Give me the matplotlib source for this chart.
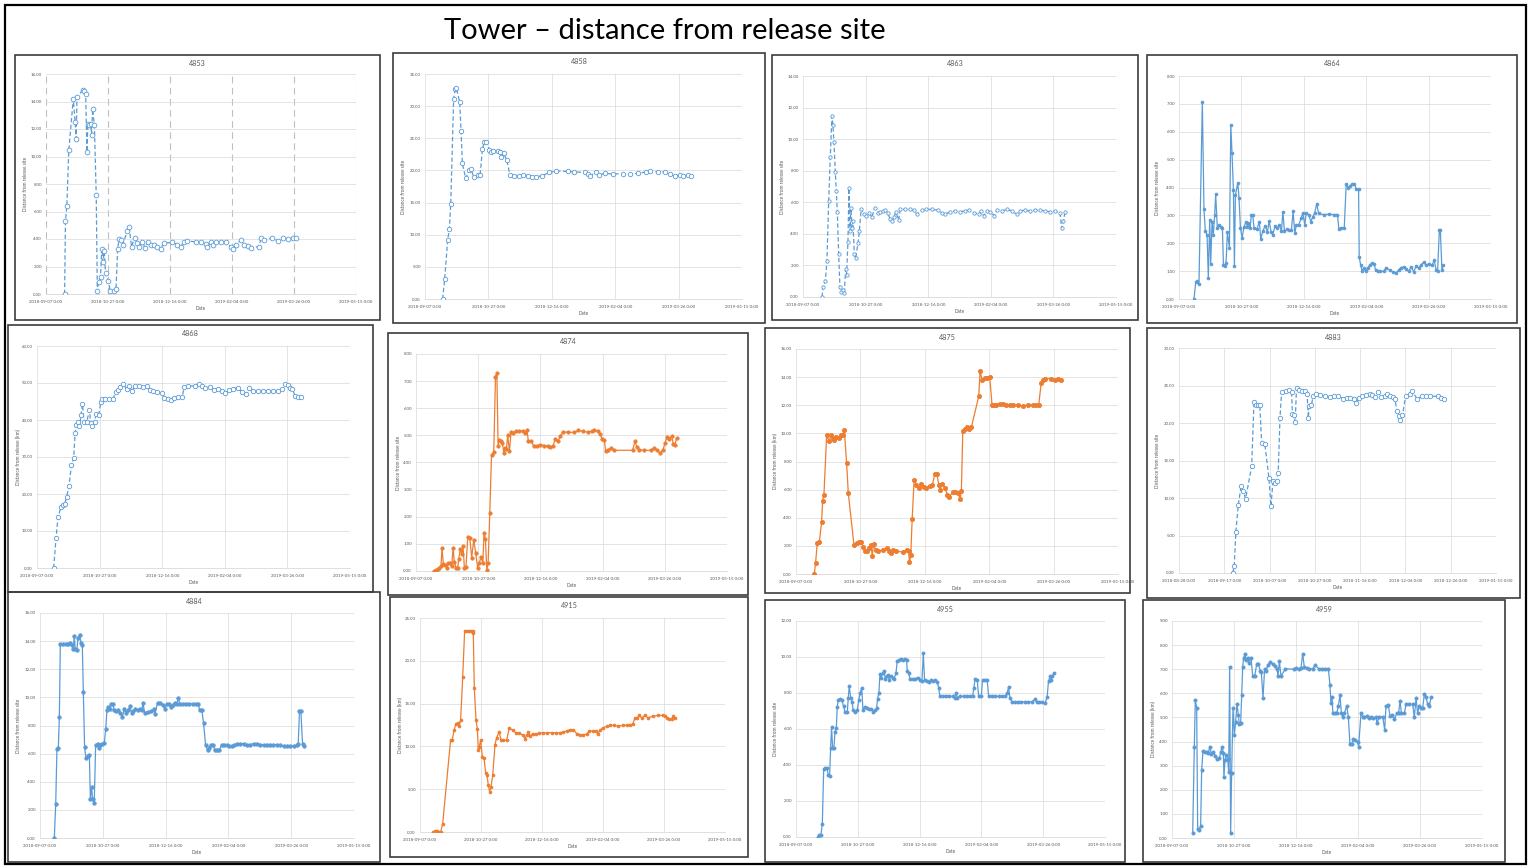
import datetime as dt

import matplotlib
matplotlib.use("Agg")
import matplotlib.pyplot as plt
import matplotlib.dates as mdates
import numpy as np
from matplotlib.patches import Rectangle
from matplotlib.ticker import FuncFormatter

plt.rcParams["font.family"] = ["Lato", "DejaVu Sans"]

W, H = 1529, 866
BLUE = "#5B9BD5"
ORANGE = "#ED7D31"
TXT = "#595959"

SEASON_START = dt.date(2018, 9, 7)
EARLY_START = dt.date(2018, 8, 28)

# ---- tracking data: days since axis start, distance from release site ----
d4853_days = [15, 15.7, 16.8, 18.4, 22, 23.5, 24.3, 25, 29.7, 30.8, 32, 33, 33.8, 34.9, 36, 36.8,
              37.6, 39, 40.5, 41.4, 42.4, 44, 45, 46, 47, 48, 50, 52, 54.6, 56.5, 57.8, 59, 60.8,
              62, 65.4, 67, 69, 71.4, 73.5, 75.4, 77.6, 80, 82, 84.3, 87, 89.7, 92.4, 95, 102, 106,
              108.6, 111.4, 114, 120.8, 124.9, 129, 130, 133, 134.9, 137, 141, 145, 149, 151, 153,
              157, 160, 162.7, 165.4, 171.6, 173.5, 176, 182.4, 187, 191, 195, 199, 202]
d4853_km = [0, 5.3, 6.4, 10.45, 14.2, 12.5, 11.3, 14.3, 14.85, 14.8, 14.55, 10.35, 12.4, 12.3, 12.4,
            11.6, 13.45, 12.3, 7.2, 0.2, 0.9, 1.25, 3.3, 2.35, 3.1, 1.5, 0.95, 0.2, 0.2, 0.4, 3.3,
            4.0, 3.95, 3.6, 4.55, 4.9, 3.45, 4.05, 3.7, 3.4, 3.8, 3.35, 3.8, 3.6, 3.55, 3.45, 3.3,
            3.7, 3.75, 3.6, 3.45, 3.75, 3.85, 3.8, 3.75, 3.65, 3.4, 3.8, 3.55, 3.75, 3.8, 3.75,
            3.45, 3.3, 3.6, 3.9, 3.6, 3.5, 3.35, 3.45, 4.05, 3.9, 4.1, 3.85, 4.05, 4.0, 4.05, 4.1]

d4858_days = [13.9, 15.5, 17.9, 19.2, 20.3, 22.6, 23.9, 24.7, 27.4, 28.4, 29.5, 32.1, 35, 36.3, 38.4,
              42.1, 43.4, 45.3, 46.8, 48.2, 50.8, 52.1, 53.9, 57.4, 59.5, 60, 62, 64.5, 67, 70.5,
              74.5, 77.6, 81, 84.5, 87.6, 92.4, 98, 103.4, 112.6, 117.9, 125.8, 128.4, 130.3,
              134.5, 137.1, 141.6, 148, 156, 161.8, 167.9, 173.9, 177.6, 183.7, 189, 193, 196.8,
              200.8, 203.4, 207.4, 209.5]
d4858_km = [0, 3.05, 9.2, 10.85, 14.75, 31.1, 32.65, 32.8, 30.6, 26.2, 21.1, 18.75, 20.1, 20.2,
            18.95, 19.25, 19.25, 23.3, 24.5, 24.5, 23.2, 22.8, 23.1, 23.1, 22.8, 22.1, 22.7, 21.6,
            19.3, 19.15, 19.15, 19.3, 19.2, 19.05, 19.05, 19.15, 19.7, 19.9, 19.85, 19.75, 19.7,
            19.5, 19.15, 19.7, 19.25, 19.55, 19.45, 19.5, 19.45, 19.55, 19.75, 19.85, 19.8, 19.75,
            19.45, 19.15, 19.25, 19.15, 19.3, 19.2]

d4863_days = [15.2, 16, 17.8, 19.1, 20.5, 21.8, 23.1, 23.9, 24.7, 25.8, 26.6, 27.4, 28.5, 29.5, 30.6,
              31.6, 33, 34, 34.8, 35.9, 36.7, 37.5, 38.3, 39.1, 39.9, 41, 42, 43.9, 45, 46.5, 48.4,
              50.3, 52.4, 55, 57.2, 59.8, 61.7, 63.6, 65.7, 67.6, 69.7, 71, 72.6, 74.2, 76.3, 77.7,
              81.6, 85.6, 88.3, 90.9, 94.9, 98, 102.9, 107.7, 110.9, 113.6, 117.6, 121.5, 125.5,
              129, 132.2, 136.2, 140.2, 142.3, 144.4, 146.8, 149.5, 152.9, 154.8, 158.8, 162.8,
              166.8, 170.7, 173.4, 177.4, 181.4, 185.4, 189.4, 193.4, 197.3, 201.3, 205.3, 206.6,
              208, 209.3]
d4863_km = [0, 0.65, 1.0, 2.25, 6.05, 8.9, 11.45, 10.9, 9.85, 7.95, 6.7, 5.4, 2.7, 0.65, 0.3, 0.45,
            0.25, 1.75, 1.4, 3.5, 6.9, 4.15, 5.65, 4.4, 4.8, 2.7, 2.45, 3.4, 4.15, 5.6, 5.25, 5.15,
            5.35, 5.05, 5.65, 5.35, 5.4, 5.45, 5.5, 5.3, 4.95, 4.8, 5.05, 5.4, 4.85, 5.55, 5.55,
            5.55, 5.5, 5.25, 5.5, 5.55, 5.55, 5.5, 5.3, 5.25, 5.4, 5.45, 5.4, 5.45, 5.5, 5.35,
            5.25, 5.45, 5.15, 5.45, 5.4, 5.15, 5.5, 5.45, 5.55, 5.45, 5.25, 5.45, 5.5, 5.45, 5.5,
            5.5, 5.45, 5.4, 5.45, 5.35, 4.35, 4.8, 5.4]

d4864_days = [12, 13.4, 14.7, 16, 18.7, 20, 21.1, 22.5, 23.5, 24.6, 25.4, 26.5, 27.5, 28.6, 29.4,
              30.7, 32, 33.4, 34.8, 35.6, 36.9, 37.7, 38.8, 40.4, 41.5, 42.5, 43.6, 44.4, 45.2,
              47.1, 48.1, 49.2, 50.5, 52.1, 53.7, 54.8, 55.6, 57, 58, 59.1, 60.2, 62.3, 64.4, 65.5,
              67.1, 69, 70.9, 72.2, 73.8, 75.1, 77, 78.9, 80.5, 82.1, 83.2, 84.5, 86.4, 88.5, 90.1,
              91.4, 92.8, 94.1, 96, 97.9, 99.2, 100.8, 101.9, 104, 105.6, 107.2, 108.6, 110.4,
              111.8, 115.8, 119.8, 123.8, 127, 128.1, 129.9, 132.4, 134, 135.6, 137.2, 138.8,
              140.4, 142, 143.9, 144.4, 145.5, 146.8, 147.9, 149.5, 151.1, 152.7, 154.5, 156.4,
              157.5, 159.1, 161.2, 163.9, 166, 168.7, 171.4, 173.5, 175.9, 177.8, 179.9, 182.1,
              183.9, 186.1, 188, 190.1, 192, 193.9, 196, 198.1, 200.3, 202.7, 204.5, 206.1, 207.2,
              208.6, 209.4, 210.7, 211.8]
d4864_km = [0, 0.6, 0.65, 0.53, 7.08, 3.22, 2.45, 2.3, 0.75, 2.85, 1.27, 2.78, 2.3, 3.03, 3.75, 2.55,
            2.65, 2.6, 2.53, 1.23, 1.17, 1.3, 2.4, 1.83, 6.24, 5.22, 3.9, 1.18, 3.72, 4.17, 3.63,
            2.56, 2.19, 2.59, 2.77, 2.59, 2.71, 2.53, 3.03, 3.0, 2.53, 2.5, 2.77, 2.14, 2.43, 2.62,
            2.41, 2.79, 2.41, 2.31, 2.62, 2.55, 2.65, 2.43, 3.13, 2.43, 2.5, 2.47, 2.47, 3.15,
            2.37, 2.67, 2.67, 2.89, 3.1, 2.65, 3.07, 3.03, 2.77, 2.95, 3.07, 3.42, 3.07, 3.03,
            3.04, 3.03, 3.03, 2.5, 2.55, 2.55, 4.14, 3.99, 4.06, 4.14, 4.14, 3.96, 3.96, 1.51,
            1.23, 0.99, 1.11, 1.0, 1.11, 1.21, 1.29, 1.27, 1.03, 0.99, 0.99, 0.99, 1.13, 1.03,
            0.97, 0.93, 1.03, 1.13, 1.15, 1.09, 0.99, 1.15, 0.97, 1.19, 1.11, 1.23, 1.31, 1.21,
            1.27, 1.21, 1.39, 1.03, 0.99, 2.47, 2.47, 1.03, 1.23]

d4868_days = [13.3, 15.2, 16.8, 19.2, 20.8, 22.1, 23.7, 25.6, 27.5, 29.3, 30.4, 31.5, 32.5, 33.9,
              35.2, 36.3, 37.6, 39.7, 41.9, 42.9, 44.3, 46.1, 47.2, 49.3, 50.9, 52.3, 54.7, 57.6,
              60.8, 62.7, 64.8, 66.4, 68.8, 71.5, 73.3, 76, 78.1, 81.3, 84.3, 87.5, 90.1, 92.8,
              95.5, 100, 101.6, 104.3, 106.9, 109.6, 112.8, 116, 117.6, 120.8, 126.1, 129.3, 131.5,
              134.1, 138.1, 141.6, 144.8, 147.5, 150.1, 153.3, 156.8, 160.3, 163.5, 166.7, 169.3,
              172.8, 176.8, 180.8, 184.8, 188.8, 192.8, 196, 198.1, 200.3, 202.1, 204, 206.1,
              208.3, 210.9]
d4868_km = [0, 8.1, 13.75, 16.6, 17.1, 17.25, 19.3, 22.2, 27.85, 29.65, 36.4, 38.6, 39.5, 38.4, 41.3,
            44.3, 39.5, 39.5, 42.65, 39.3, 38.35, 39.5, 41.5, 41.3, 44.75, 45.8, 45.8, 45.65, 45.65,
            47.6, 48.05, 48.95, 49.6, 48.5, 49.25, 47.9, 49.25, 49.25, 48.8, 49.15, 48.05, 47.9,
            47.6, 47.2, 46.0, 45.65, 45.3, 46.0, 46.3, 46.3, 48.95, 49.15, 49.25, 49.6, 49.15,
            48.7, 48.95, 48.05, 48.5, 47.9, 47.2, 48.05, 48.5, 48.7, 47.6, 46.9, 48.7, 47.8,
            47.8, 47.8, 47.8, 47.8, 47.8, 48.25, 49.6, 49.4, 48.7, 48.3, 46.5, 46.1, 46.1]

d4874_days = [14.7, 16.1, 17.4, 18.8, 20.1, 20.9, 22, 23.3, 24.7, 26, 27.3, 28.7, 29.8, 30.8, 32.2,
              33.5, 34.3, 35.7, 36.7, 37.8, 38.9, 40.2, 41.6, 43.2, 44.8, 46.4, 48, 49.6, 51, 52.3,
              53.7, 54.7, 55.8, 56.9, 58, 59.3, 60.7, 62.5, 63.9, 65, 66, 67.1, 68.5, 69.5, 70.6,
              71.7, 72.7, 73.7, 75.1, 76.4, 78, 80.4, 83.1, 85.8, 87.6, 89.3, 90.3, 92.5, 94.6,
              97.3, 100, 103.2, 105.9, 108, 110.2, 112, 113.9, 116, 117.9, 121.9, 127.3, 130.5, 134,
              138, 141.2, 143.4, 146, 148.2, 149.5, 151.4, 152.4, 154, 156.7, 159.4, 174.1, 176,
              177.6, 179.5, 183.5, 188.9, 191.6, 193.7, 196.4, 198.6, 200.2, 201.8, 203.6, 205.5,
              206.9, 208.2, 209.5]
d4874_km = [0, 0.04, 0.06, 0.12, 0.18, 0.86, 0.25, 0.22, 0.12, 0.28, 0.31, 0.18, 0.86, 0.33, 0.12,
            0.1, 0.43, 0.82, 0.61, 0.92, 0.12, 0.15, 1.26, 1.23, 0.49, 1.16, 0.65, 0.12, 0.31, 0.53,
            0.28, 1.41, 1.19, 0.04, 0.31, 2.14, 4.29, 4.37, 7.17, 7.29, 4.62, 4.84, 4.78, 4.72,
            4.35, 4.53, 4.5, 5.0, 4.41, 5.12, 5.09, 5.16, 5.15, 5.17, 5.09, 5.18, 4.78, 4.78, 4.62,
            4.62, 4.66, 4.62, 4.6, 4.56, 4.62, 4.87, 4.78, 4.96, 5.12, 5.12, 5.11, 5.18, 5.15,
            5.12, 5.15, 5.21, 5.15, 5.06, 4.87, 4.84, 4.41, 4.47, 4.53, 4.45, 4.45, 4.78, 4.56,
            4.47, 4.45, 4.45, 4.53, 4.45, 4.35, 4.47, 4.72, 4.94, 4.87, 4.96, 4.69, 4.66, 4.9]

d4875_days = [14.2, 15.2, 16.5, 18.1, 19.9, 20.7, 21.7, 23.8, 25.6, 27.1, 28.4, 29.7, 31.3, 33.3,
              34.9, 36.2, 37.5, 39.3, 40.6, 45, 47, 48.8, 50.4, 52.2, 53.5, 55, 56.6, 58.1, 59.2,
              60.2, 61.8, 63.8, 67.7, 70.3, 72.1, 73.6, 75.5, 78, 83.2, 85.8, 87.4, 88.1, 89.1,
              90.2, 91.7, 93.5, 95.3, 97.4, 99.2, 101.3, 103.9, 105.9, 107.8, 109.3, 110.9, 111.9,
              113.4, 115.5, 117.6, 118.9, 122, 123.8, 125.8, 127.4, 128.4, 129.5, 131, 132.8,
              134.4, 136.2, 141.9, 142.9, 144.4, 146.5, 148.6, 150.4, 152.2, 153.7, 155.5, 158.1,
              160.7, 163.3, 165.9, 168.5, 172.4, 176.2, 180.1, 184, 186.6, 188.4, 190.4, 191.7,
              193.5, 198.2, 200.8, 203.4, 205.9]
d4875_km = [0, 0.8, 2.2, 2.25, 3.73, 5.22, 5.63, 9.9, 9.43, 9.86, 9.67, 9.5, 9.71, 9.67, 9.9, 9.9,
            10.26, 7.89, 5.75, 2.07, 2.19, 2.3, 2.26, 1.95, 1.64, 1.64, 1.83, 2.07, 1.31, 2.11,
            1.71, 1.64, 1.71, 1.83, 1.64, 1.47, 1.71, 1.64, 1.54, 1.71, 1.64, 0.83, 1.35, 3.92,
            6.7, 6.34, 6.1, 6.41, 6.22, 6.15, 6.29, 6.34, 7.13, 7.13, 6.34, 5.99, 6.39, 6.15,
            5.63, 5.51, 5.82, 5.82, 5.75, 5.34, 5.91, 10.19, 10.33, 10.43, 10.31, 10.45, 12.64,
            14.42, 13.82, 13.94, 13.94, 13.99, 12.04, 12.0, 12.04, 12.09, 12.09, 12.04, 12.0,
            12.04, 12.0, 11.92, 12.04, 12.04, 12.0, 12.0, 13.59, 13.82, 13.9, 13.9, 13.82, 13.87,
            13.82]

d4883_days = [23.7, 24.4, 25.1, 26.2, 27.4, 28.4, 29.4, 32.1, 33.1, 34, 35, 35.7, 36.5, 37.9, 39.7,
              40.6, 41.5, 42.4, 43.1, 43.8, 44.6, 45.3, 47.2, 48.7, 49.7, 50.1, 50.7, 51.3, 51.9,
              53.1, 54.4, 55.6, 56.6, 57.1, 57.5, 58.5, 59.3, 60.7, 62.2, 64.4, 66.6, 68.4, 70.3,
              72.5, 74, 75.7, 77.2, 78.1, 79.6, 81, 82.8, 84.3, 85.4, 86.5, 87.9, 89.4, 90.9, 91.9,
              93.1, 94.3, 95.3, 96.3, 97.2, 97.8, 98.7, 100.1, 101.9, 103.1, 105.1, 107.5, 109.3,
              111, 114.4, 115.9, 116.9]
d4883_km = [0, 0.89, 5.47, 9.11, 11.56, 10.89, 9.91, 14.22, 22.8, 22.44, 22.44, 22.36, 17.33, 17.24,
            12.67, 8.89, 12.22, 12.0, 12.31, 13.33, 20.67, 24.13, 24.22, 24.44, 24.13, 21.2, 21.11,
            20.13, 24.67, 24.44, 24.31, 24.22, 23.87, 20.67, 22.22, 22.44, 23.64, 23.87, 23.78,
            23.56, 23.47, 23.56, 23.56, 23.24, 23.33, 23.33, 23.24, 22.67, 23.33, 23.56, 23.78,
            23.91, 23.78, 23.47, 24.13, 23.42, 23.64, 23.87, 23.64, 23.47, 23.24, 21.56, 20.89,
            20.44, 21.02, 23.56, 23.87, 24.22, 23.24, 23.56, 23.64, 23.56, 23.56, 23.33, 23.24]

d4884_days = [11.4, 12.5, 13.5, 14.6, 15.4, 16.2, 18, 20.7, 22.5, 24.1, 25.7, 26.5, 27.3, 28.1, 29.4,
              30.2, 31.6, 32.6, 33.7, 34.5, 35.5, 36.6, 37.9, 39.3, 40.1, 41.1, 41.9, 43.2, 44.3,
              45.9, 46.9, 48, 49.3, 51.2, 52.3, 53.3, 54.4, 55.4, 56.5, 57.8, 59.2, 60.7, 62.3,
              63.9, 65.5, 67.1, 68.7, 70.3, 71.6, 72.9, 74.3, 75.9, 77.7, 79.8, 81.2, 81.9, 83.3,
              85.7, 88.3, 90.5, 91.5, 93.6, 95.8, 97.7, 99.5, 101.1, 103, 104.2, 105.8, 107.4, 109,
              110.1, 111.4, 113.5, 116.2, 118.8, 121.5, 124.1, 126, 127.1, 128.9, 130.2, 131.8,
              133.4, 134.5, 136.1, 137.9, 139.3, 140.8, 142.7, 144.6, 146.7, 148.5, 150.7, 152.5,
              154.6, 156.8, 159.4, 162.1, 164.7, 167.4, 170, 172.7, 175.3, 178, 180.6, 183.3,
              185.9, 188.6, 191.2, 193.9, 196.6, 199.2, 201.9, 204.5, 205.6, 206.6, 207.7, 209,
              210.1]
d4884_km = [0, 2.39, 6.35, 6.42, 8.6, 13.82, 13.82, 13.82, 13.82, 13.89, 13.75, 13.46, 14.34, 13.41,
            13.39, 14.22, 14.45, 13.89, 13.7, 10.38, 6.45, 5.69, 5.83, 5.92, 2.75, 3.63, 2.75,
            2.51, 6.64, 6.71, 6.42, 6.64, 6.71, 6.78, 7.73, 9.08, 9.31, 9.15, 9.55, 9.55, 9.08,
            9.0, 9.08, 8.91, 8.6, 9.15, 8.91, 9.08, 9.36, 8.91, 9.0, 9.15, 9.08, 9.15, 9.08, 9.62,
            8.91, 8.96, 9.0, 9.15, 8.84, 9.6, 9.6, 9.43, 9.19, 9.55, 9.55, 9.31, 9.48, 9.62, 9.55,
            9.95, 9.55, 9.55, 9.55, 9.55, 9.55, 9.55, 9.55, 9.08, 9.08, 8.18, 6.64, 6.23, 6.42,
            6.64, 6.64, 6.23, 6.23, 6.23, 6.64, 6.64, 6.64, 6.54, 6.54, 6.59, 6.71, 6.71, 6.71,
            6.64, 6.64, 6.71, 6.71, 6.64, 6.64, 6.64, 6.64, 6.64, 6.64, 6.59, 6.54, 6.54, 6.54,
            6.54, 6.59, 6.71, 9.03, 9.0, 6.71, 6.54]

d4915_days = [10.9, 12.6, 14.2, 15.8, 16.9, 18.6, 25.1, 26.5, 27.9, 29.5, 30.9, 32, 33.3, 35, 36.6,
              38.3, 39.9, 41.8, 43.2, 43.7, 44.5, 45.9, 47, 47.8, 48.6, 49.7, 51.1, 52.5, 53.8,
              54.9, 56, 57.1, 58.2, 59.6, 61.5, 62.8, 64.8, 66.4, 68.3, 71, 73.2, 75.9, 78.7, 81.4,
              84.2, 86.1, 87.4, 88.8, 90.2, 92.3, 95.1, 97.8, 101.1, 104.4, 107.9, 111.5, 114.8,
              117.5, 120.2, 123, 125.7, 128.4, 131.1, 133.9, 136.6, 138.8, 141.5, 144.3, 145.9,
              147.5, 150.3, 153, 155.7, 159, 162.6, 166.1, 169.4, 172.1, 174.3, 176.2, 178.1,
              179.8, 181.7, 184.4, 186.6, 191.3, 195.4, 198.9, 200.8, 202.7, 204.4, 206.3, 207.7,
              209]
d4915_km = [0, 0.16, 0.16, 0.04, 0, 0.97, 10.79, 10.79, 11.88, 12.66, 12.73, 12.34, 13.12, 18.09,
            23.52, 23.52, 23.52, 23.52, 23.52, 23.21, 16.85, 13.12, 12.07, 9.55, 9.94, 10.79, 8.77,
            8.66, 6.95, 6.64, 5.47, 4.7, 5.28, 6.64, 10.21, 11.02, 11.68, 10.79, 10.71, 10.71,
            12.15, 11.88, 11.57, 11.57, 11.3, 10.91, 11.3, 11.68, 11.18, 11.49, 11.41, 11.57,
            11.57, 11.57, 11.61, 11.57, 11.57, 11.68, 11.8, 11.96, 11.96, 11.49, 11.37, 11.37,
            11.41, 11.8, 11.8, 11.8, 11.49, 11.88, 12.19, 12.34, 12.46, 12.46, 12.34, 12.46,
            12.46, 12.54, 12.58, 13.32, 13.35, 13.63, 13.32, 13.63, 13.35, 13.51, 13.63, 13.63,
            13.51, 13.35, 13.16, 13.24, 13.55, 13.32]

d4955_days = [17.8, 18.9, 20.2, 21.3, 22.4, 23.7, 25.1, 26.1, 27.2, 28, 28.8, 29.6, 30.7, 31.5, 32.6,
              33.4, 34.2, 35.6, 37, 38.5, 39.6, 41.5, 42.3, 43.1, 44.2, 45.3, 46.3, 47.4, 49.6,
              50.7, 52, 53.1, 54.2, 55.5, 57.4, 59.3, 60.9, 62.5, 64.2, 65.2, 66, 67.1, 67.9, 69,
              70.1, 71.2, 72.2, 73.3, 74.4, 75.5, 76.6, 78.2, 79.5, 80.9, 81.9, 83.6, 85.2, 86.8,
              88.4, 89.5, 90, 91.1, 92.2, 94.3, 96.5, 98.7, 100.3, 101.9, 103, 104, 105.7, 107.8,
              109.4, 111.1, 112.7, 114.3, 115.4, 116.4, 118.6, 121.3, 124, 126.7, 128.3, 129.4,
              130.5, 132.9, 135.6, 138.3, 141, 142.9, 143.9, 145, 146.6, 147.7, 149.9, 150.9,
              153.1, 154.7, 155.8, 158.5, 161.2, 163.9, 166.6, 169.3, 170.9, 172, 173, 174.7,
              176.8, 179.5, 182.2, 184.9, 188.1, 190.8, 193, 194.6, 196.8, 198.9, 201.6, 203.2,
              204.3, 205.7, 206.5, 207.5, 208.6]
d4955_km = [0, 0.11, 0.13, 0.74, 3.78, 3.82, 3.82, 3.45, 3.39, 4.93, 6.13, 4.93, 4.93, 5.85, 6.03,
            7.23, 7.6, 7.64, 7.6, 7.27, 6.96, 6.92, 7.75, 8.38, 7.75, 7.51, 7.05, 6.96, 7.07, 7.6,
            8.01, 8.3, 7.05, 7.23, 7.14, 7.1, 7.09, 6.96, 7.05, 7.14, 7.69, 8.01, 9.04, 8.86,
            9.11, 9.23, 8.8, 8.93, 8.99, 8.75, 8.93, 8.86, 8.8, 9.11, 9.78, 9.85, 9.91, 9.85,
            9.91, 9.82, 9.23, 9.11, 8.8, 8.8, 8.8, 8.86, 8.71, 8.67, 10.22, 8.71, 8.67, 8.62,
            8.75, 8.67, 8.71, 8.62, 8.3, 7.84, 7.84, 7.84, 7.82, 7.82, 7.75, 8.01, 7.75, 7.82,
            7.82, 7.82, 7.82, 7.82, 8.3, 8.8, 8.75, 7.84, 7.82, 8.71, 8.75, 8.71, 7.84, 7.82,
            7.82, 7.82, 7.82, 7.82, 8.01, 8.34, 7.75, 7.51, 7.51, 7.51, 7.51, 7.51, 7.51, 7.51,
            7.64, 7.51, 7.51, 7.51, 7.45, 7.79, 8.67, 8.93, 8.75, 8.93, 9.11]

d4959_days = [16.7, 18, 18.8, 19.9, 20.7, 22, 23.1, 23.9, 25, 26.3, 27.9, 29.3, 30.6, 31.7, 33.3,
              34.9, 36.6, 38.2, 39.5, 40.3, 41.4, 41.9, 42.7, 43.8, 44.9, 45.7, 46.5, 47.3, 48.1,
              49.2, 50.3, 51.3, 52.4, 53.5, 54.3, 55.4, 56.2, 57, 57.8, 58.9, 60, 61, 62.1, 63.7,
              65.1, 66.7, 68.3, 69.6, 71.2, 72, 73.4, 74.7, 75.8, 77.2, 79, 81.2, 83.3, 84.7, 85.5,
              86.6, 87.9, 91.4, 98.7, 100, 102.2, 104, 105.4, 106.7, 108.6, 110.8, 113.4, 115.6,
              118.3, 121, 123.7, 126.1, 127.4, 128.2, 129, 129.8, 131.2, 132.8, 134.1, 135.5,
              136.6, 137.6, 139, 140.9, 142.2, 143.5, 144.9, 146.2, 147.8, 149.7, 150.5, 152.4,
              153.8, 155.1, 157, 158.6, 160.5, 162.4, 164.5, 165.3, 167.2, 169.9, 171.5, 172.6,
              174.5, 175.8, 177.4, 179.3, 181.2, 182.8, 183.9, 185, 187.4, 188.7, 191.4, 194.1,
              195.4, 196.8, 198.1, 199.2, 200.8, 202.2, 203.5, 204.8, 206.2, 207.5, 208.9]
d4959_km = [0.21, 3.79, 5.72, 5.4, 0.37, 0.32, 0.51, 2.8, 3.61, 3.58, 3.58, 3.54, 3.79, 3.48, 3.58,
            3.4, 3.26, 3.31, 3.58, 3.79, 3.54, 2.51, 3.24, 3.44, 3.26, 2.75, 7.08, 0.21, 2.71,
            5.41, 4.27, 4.82, 5.55, 5.1, 4.72, 4.78, 5.92, 7.09, 7.48, 7.62, 7.37, 7.48, 7.26,
            7.48, 6.71, 6.71, 7.21, 7.23, 6.93, 6.89, 5.81, 7.02, 6.93, 7.16, 7.3, 7.21, 7.12,
            7.02, 6.71, 7.34, 6.71, 7.02, 7.0, 7.05, 7.02, 7.05, 7.64, 7.09, 7.05, 7.02, 7.02,
            7.16, 7.02, 7.02, 7.02, 7.02, 6.34, 5.58, 5.83, 5.17, 5.17, 5.17, 5.47, 5.92, 5.17,
            5.03, 5.17, 5.47, 5.03, 3.9, 3.9, 4.09, 4.06, 4.0, 3.79, 5.17, 5.03, 5.0, 5.06, 4.96,
            5.0, 4.96, 5.03, 4.75, 5.03, 5.03, 4.5, 5.47, 5.51, 5.06, 5.1, 4.92, 5.17, 5.2, 5.7,
            5.17, 5.17, 5.55, 5.55, 5.55, 5.0, 5.79, 5.17, 5.47, 5.41, 5.41, 5.96, 5.85, 5.55,
            5.47, 5.83]

SITE = "Distance from release site"
KM = "Distance from release (km)"

# (tag, days, km, axis start, axis span, tick step, ymax, ystep, ylabel)
series = [
    ("4853", d4853_days, d4853_km, SEASON_START, 250, 50, 16, 2, SITE),
    ("4858", d4858_days, d4858_km, SEASON_START, 250, 50, 35, 5, SITE),
    ("4863", d4863_days, d4863_km, SEASON_START, 250, 50, 14, 2, SITE),
    ("4864", d4864_days, d4864_km, SEASON_START, 250, 50, 8, 1, SITE),
    ("4868", d4868_days, d4868_km, SEASON_START, 250, 50, 60, 10, KM),
    ("4874", d4874_days, d4874_km, SEASON_START, 250, 50, 8, 1, SITE),
    ("4875", d4875_days, d4875_km, SEASON_START, 250, 50, 16, 2, KM),
    ("4883", d4883_days, d4883_km, EARLY_START, 140, 20, 30, 5, SITE),
    ("4884", d4884_days, d4884_km, SEASON_START, 250, 50, 16, 2, SITE),
    ("4915", d4915_days, d4915_km, SEASON_START, 250, 50, 25, 5, KM),
    ("4955", d4955_days, d4955_km, SEASON_START, 250, 50, 12, 2, SITE),
    ("4959", d4959_days, d4959_km, SEASON_START, 250, 50, 9, 1, KM),
]

# line style per tag: colour, dashed, open markers, marker size
styles = {
    "4853": (BLUE, True, True, 3.4),
    "4858": (BLUE, True, True, 3.2),
    "4863": (BLUE, True, True, 2.4),
    "4864": (BLUE, False, False, 2.0),
    "4868": (BLUE, True, True, 3.2),
    "4874": (ORANGE, False, False, 2.4),
    "4875": (ORANGE, False, False, 3.0),
    "4883": (BLUE, True, True, 3.2),
    "4884": (BLUE, False, False, 2.5),
    "4915": (ORANGE, False, False, 2.0),
    "4955": (BLUE, False, False, 2.2),
    "4959": (BLUE, False, False, 2.3),
}

# pixel boxes: chart frame (x0, y0, x1, y1) and plot area (x0, y0, x1, y1)
frames = {
    "4853": ((15, 55, 380, 320), (46, 74, 356, 294)),
    "4858": ((393, 53, 765, 323), (425, 74, 742, 299)),
    "4863": ((772, 55, 1138, 320), (803, 76, 1116, 297)),
    "4864": ((1147, 55, 1517, 323), (1179, 76, 1491, 299)),
    "4868": ((8, 325, 373, 592), (37, 346, 350, 568)),
    "4874": ((388, 333, 748, 595), (416, 354, 727, 571)),
    "4875": ((765, 328, 1130, 593), (796, 349, 1118, 574)),
    "4883": ((1147, 328, 1520, 598), (1179, 348, 1496, 573)),
    "4884": ((8, 592, 380, 862), (40, 613, 354, 838)),
    "4915": ((390, 597, 748, 857), (420, 618, 725, 832)),
    "4955": ((765, 600, 1125, 862), (796, 621, 1105, 837)),
    "4959": ((1143, 600, 1505, 862), (1172, 621, 1482, 838)),
}


def fx(px):
    return px / W


def fy(py):
    return 1 - py / H


date_fmt = FuncFormatter(lambda v, p: mdates.num2date(v).strftime("%Y-%m-%d") + " 0:00")

fig = plt.figure(figsize=(W / 100, H / 100), dpi=100, facecolor="white")

for tag, days, km, start, span, step, ymax, ystep, ylabel in series:
    color, dashed, hollow, ms = styles[tag]
    (bx0, by0, bx1, by1), (px0, py0, px1, py1) = frames[tag]

    fig.add_artist(Rectangle((fx(bx0), fy(by1)), (bx1 - bx0) / W, (by1 - by0) / H,
                             transform=fig.transFigure, fill=False, ec="#3c3c3c", lw=1.2))

    ax = fig.add_axes([fx(px0), fy(py1), (px1 - px0) / W, (py1 - py0) / H])
    t0 = mdates.date2num(start)
    x = t0 + np.asarray(days, dtype=float)
    ax.plot(x, km, color=color, lw=0.9,
            ls=(0, (3.5, 2.0)) if dashed else "-",
            marker="o", ms=ms, mew=0.6, mec=color,
            mfc="white" if hollow else color, zorder=3)

    ax.set_xlim(t0, t0 + span)
    ax.set_ylim(0, ymax)
    ax.set_xticks(t0 + np.arange(0, span + 1, step))
    ax.set_yticks(np.arange(0, ymax + ystep / 2, ystep))
    ax.xaxis.set_major_formatter(date_fmt)
    ax.yaxis.set_major_formatter(FuncFormatter(lambda v, p: f"{v:.2f}"))
    ax.tick_params(length=0, labelsize=3.2, labelcolor=TXT)
    ax.tick_params(axis="x", pad=4.5)
    ax.tick_params(axis="y", pad=3)

    ax.grid(axis="y", color="#D9D9D9", lw=0.5)
    if tag == "4853":
        ax.grid(axis="x", color="#BFBFBF", lw=0.8, ls=(0, (6, 4)))
    else:
        ax.grid(axis="x", color="#D9D9D9", lw=0.5)
    ax.set_axisbelow(True)
    for side in ("top", "right", "left"):
        ax.spines[side].set_visible(False)
    ax.spines["bottom"].set_color("#D9D9D9")
    ax.spines["bottom"].set_linewidth(0.6)

    cx = (bx0 + bx1) / 2
    fig.text(fx(cx), fy(by0 + 9), tag, ha="center", va="center", fontsize=5.2, color=TXT)
    fig.text(fx((px0 + px1) / 2), fy(py1 + 14.5), "Date", ha="center", va="center",
             fontsize=3.4, color=TXT)
    fig.text(fx(bx0 + 10.5), fy((py0 + py1) / 2), ylabel, ha="center", va="center",
             rotation=90, fontsize=3.4, color=TXT)

fig.text(fx(665), fy(31), "Tower \u2013 distance from release site", ha="center", va="center",
         fontsize=21, color="black")

fig.add_artist(Rectangle((fx(5), fy(864)), 1521 / W, 859 / H, transform=fig.transFigure,
                         fill=False, ec="black", lw=1.6))

fig.savefig("out.png", dpi=100, facecolor="white")
